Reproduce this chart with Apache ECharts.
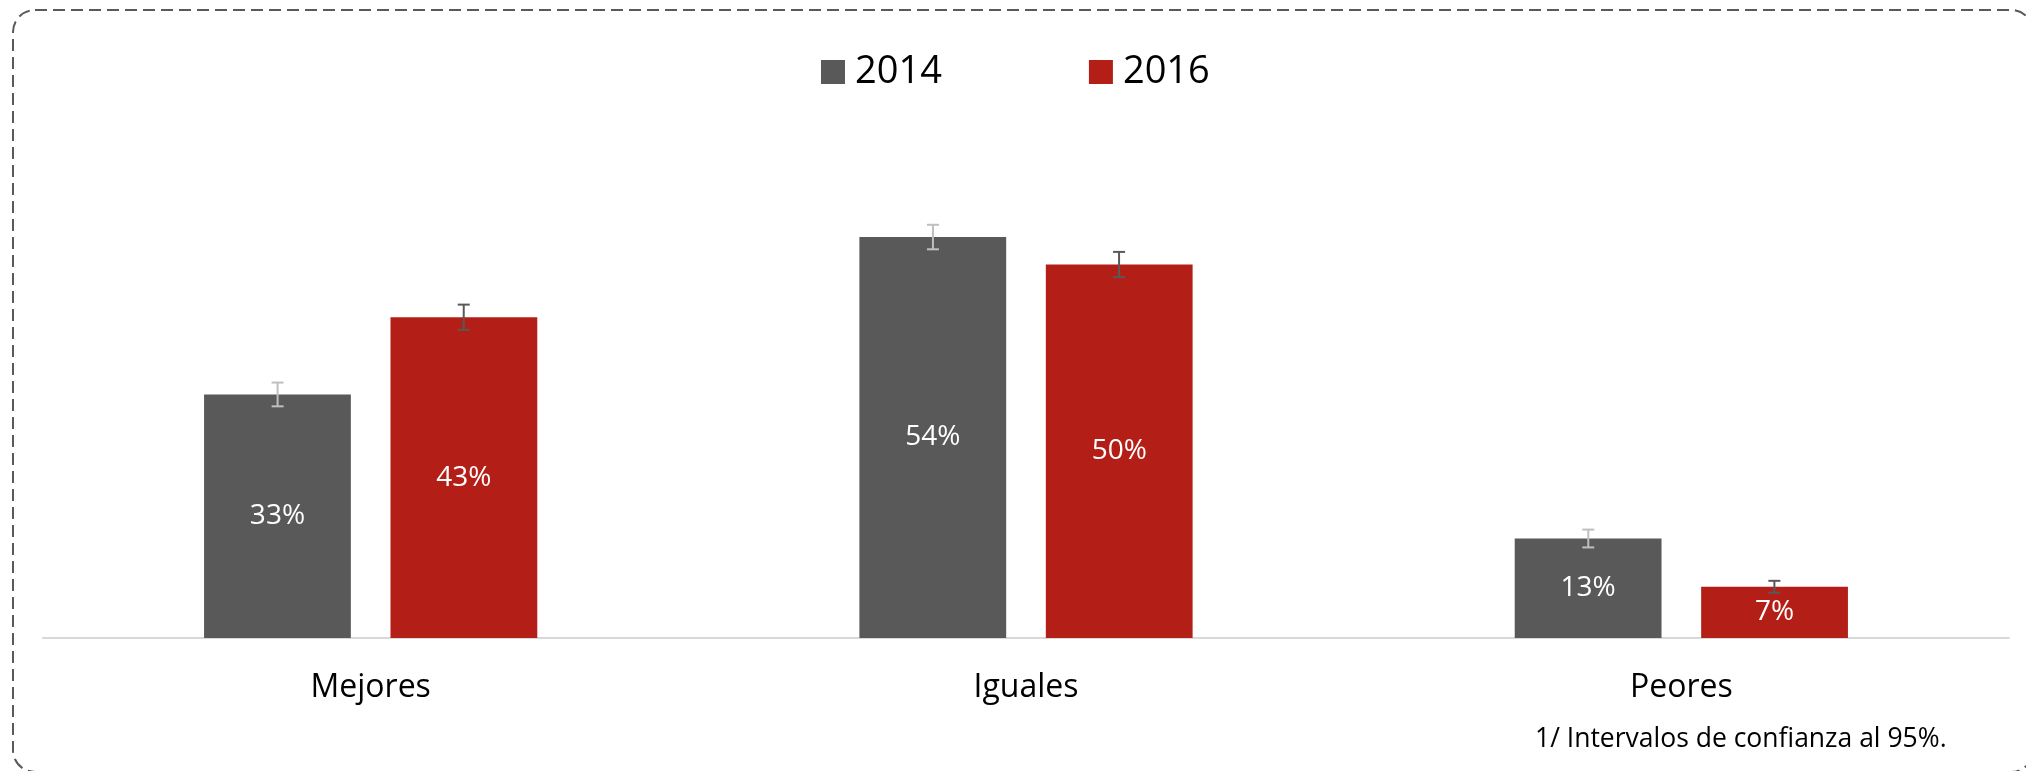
<!DOCTYPE html>
<html>
<head>
<meta charset="utf-8">
<title>Mejores / Iguales / Peores</title>
<script src="https://cdn.jsdelivr.net/npm/echarts@6/dist/echarts.min.js"></script>
<style>
  html, body { margin: 0; padding: 0; background: #fff; }
  #main { width: 2026px; height: 771px; }
</style>
</head>
<body>
<div id="main"></div>
<script>
var categories = ['Mejores', 'Iguales', 'Peores'];
var years = ['2014', '2016'];
var values2014 = [32.8, 54.0, 13.4];
var values2016 = [43.2, 50.3, 6.9];
// half width of the 95% confidence interval, in points
var err2014 = [1.6, 1.65, 1.2];
var err2016 = [1.7, 1.7, 0.8];
var footnote = '1/ Intervalos de confianza al 95%.';

var colors = ['#595959', '#b31f17'];
var errColors = ['#bfbfbf', '#595959'];

var FONT = '"Open Sans", "Noto Sans", sans-serif';

function errData(vals, errs) {
  return vals.map(function (v, i) {
    return [i, v - errs[i], v + errs[i]];
  });
}

function errSeries(name, vals, errs, offset, color) {
  return {
    name: name + ' IC',
    type: 'custom',
    z: 5,
    silent: true,
    data: errData(vals, errs),
    renderItem: function (params, api) {
      var idx = api.value(0);
      var lo = api.coord([idx, api.value(1)]);
      var hi = api.coord([idx, api.value(2)]);
      var band = api.size([1, 0])[0];
      var x = lo[0] + band * offset;
      var cap = 6;
      var style = { stroke: color, lineWidth: 2 };
      return {
        type: 'group',
        children: [
          { type: 'line', shape: { x1: x, y1: hi[1], x2: x, y2: lo[1] }, style: style },
          { type: 'line', shape: { x1: x - cap, y1: hi[1], x2: x + cap, y2: hi[1] }, style: style },
          { type: 'line', shape: { x1: x - cap, y1: lo[1], x2: x + cap, y2: lo[1] }, style: style }
        ]
      };
    }
  };
}

var chart = echarts.init(document.getElementById('main'), null, { renderer: 'canvas' });

var barLabel = {
  show: true,
  position: 'inside',
  color: '#fff',
  fontFamily: FONT,
  fontSize: 28,
  formatter: function (p) { return Math.round(p.value) + '%'; }
};

var option = {
  animation: false,
  backgroundColor: '#fff',
  color: colors,
  legend: {
    data: years,
    left: 816,
    top: 46,
    itemWidth: 24,
    itemHeight: 24,
    itemGap: 147,
    icon: 'rect',
    textStyle: {
      fontFamily: FONT,
      fontSize: 38,
      color: '#000',
      lineHeight: 42,
      padding: [0, 0, 0, 5]
    }
  },
  grid: {
    left: 43,
    right: 17,
    top: 44,
    bottom: 133,
    containLabel: false
  },
  xAxis: {
    type: 'category',
    data: categories,
    axisLine: { lineStyle: { color: '#d9d9d9', width: 2 } },
    axisTick: { show: false },
    axisLabel: {
      color: '#000',
      fontFamily: FONT,
      fontSize: 32,
      margin: 34
    }
  },
  yAxis: {
    type: 'value',
    min: 0,
    max: 80,
    show: false,
    splitLine: { show: false }
  },
  graphic: [
    {
      type: 'rect',
      shape: { x: 13, y: 10, width: 2020, height: 762, r: 22 },
      style: { fill: 'none', stroke: '#595959', lineWidth: 2, lineDash: [12, 6] },
      z: -1
    },
    {
      type: 'text',
      left: 1535,
      top: 726,
      style: {
        text: footnote,
        fontFamily: FONT,
        fontSize: 26.5,
        fill: '#000'
      }
    }
  ],
  series: [
    {
      name: years[0],
      type: 'bar',
      barWidth: '22.4%',
      barGap: '27%',
      itemStyle: { color: colors[0] },
      label: barLabel,
      data: values2014
    },
    {
      name: years[1],
      type: 'bar',
      barWidth: '22.4%',
      barGap: '27%',
      itemStyle: { color: colors[1] },
      label: barLabel,
      data: values2016
    },
    errSeries(years[0], values2014, err2014, -0.142, errColors[0]),
    errSeries(years[1], values2016, err2016, 0.142, errColors[1])
  ]
};

chart.setOption(option);
</script>
</body>
</html>
